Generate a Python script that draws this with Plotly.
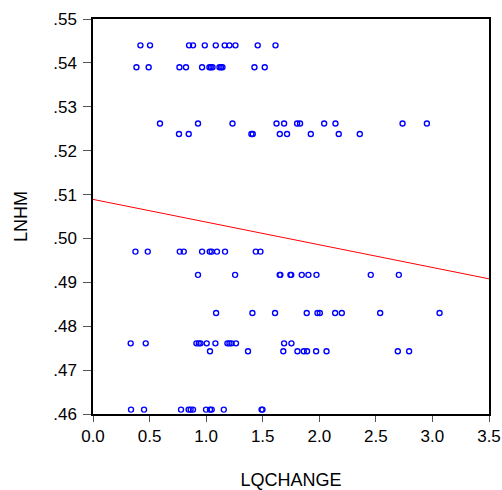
import plotly.graph_objects as go

# LNHM levels (y) and the LQCHANGE values (x) observed at each level
lnhm_levels = [0.5440, 0.5390, 0.5262, 0.5238, 0.4970, 0.4917, 0.4830, 0.4761, 0.4743, 0.4610]

x_544 = [0.419, 0.504, 0.849, 0.884, 0.988, 1.085, 1.164, 1.206, 1.259, 1.456, 1.613]
x_539 = [0.384, 0.492, 0.764, 0.822, 0.964, 1.029, 1.041, 1.056, 1.118, 1.132, 1.144, 1.427, 1.518]
x_526 = [0.592, 0.928, 1.233, 1.622, 1.689, 1.804, 1.830, 2.043, 2.143, 2.736, 2.951]
x_524 = [0.760, 0.846, 1.400, 1.412, 1.651, 1.715, 1.925, 2.172, 2.358]
x_497 = [0.375, 0.484, 0.767, 0.802, 0.964, 1.032, 1.049, 1.096, 1.167, 1.439, 1.480]
x_492 = [0.928, 1.256, 1.650, 1.656, 1.745, 1.752, 1.845, 1.904, 1.975, 2.455, 2.703]
x_483 = [1.088, 1.409, 1.609, 1.889, 1.984, 2.005, 2.140, 2.199, 2.538, 3.063]
x_476 = [0.333, 0.466, 0.914, 0.935, 0.950, 1.005, 1.082, 1.188, 1.206, 1.224, 1.264, 1.689, 1.754]
x_474 = [1.034, 1.370, 1.682, 1.807, 1.863, 1.892, 1.972, 2.064, 2.694, 2.794]
x_461 = [0.336, 0.451, 0.778, 0.845, 0.863, 0.884, 0.999, 1.034, 1.049, 1.156, 1.490, 1.498]

rows = [x_544, x_539, x_526, x_524, x_497, x_492, x_483, x_476, x_474, x_461]

# fitted line at the ends of the x axis
fit_x = [0.0, 3.5]
fit_y = [0.5089, 0.4908]

x_ticks = [0.0, 0.5, 1.0, 1.5, 2.0, 2.5, 3.0, 3.5]
x_ticktext = ["0.0", "0.5", "1.0", "1.5", "2.0", "2.5", "3.0", "3.5"]
y_ticks = [0.46, 0.47, 0.48, 0.49, 0.50, 0.51, 0.52, 0.53, 0.54, 0.55]
y_ticktext = [".46", ".47", ".48", ".49", ".50", ".51", ".52", ".53", ".54", ".55"]

xs, ys = [], []
for lvl, row in zip(lnhm_levels, rows):
    xs += row
    ys += [lvl] * len(row)

fig = go.Figure()
fig.add_trace(go.Scatter(
    x=xs, y=ys, mode="markers",
    marker=dict(symbol="circle-open", size=5, color="#0000FF", line=dict(width=1.4, color="#0000FF")),
    showlegend=False, cliponaxis=False
))
fig.add_trace(go.Scatter(
    x=fit_x, y=fit_y, mode="lines",
    line=dict(color="#FF0000", width=1),
    showlegend=False
))

font = "Liberation Sans, Arial, sans-serif"
fig.update_layout(
    width=502, height=490,
    margin=dict(l=93, r=13, t=19, b=76),
    paper_bgcolor="white", plot_bgcolor="white",
    font=dict(family=font, size=17, color="black"),
)
fig.update_xaxes(
    range=[0, 3.5], tickvals=x_ticks, ticktext=x_ticktext, automargin=False,
    showgrid=False, zeroline=False, showline=True, mirror=True,
    linecolor="black", linewidth=1.5,
    ticks="outside", ticklen=6, tickcolor="#555555", tickwidth=1,
    title=dict(text="LQCHANGE", font=dict(size=18), standoff=28),
)
fig.update_yaxes(
    range=[0.46, 0.55], tickvals=y_ticks, ticktext=y_ticktext, automargin=False,
    showgrid=False, zeroline=False, showline=True, mirror=True,
    linecolor="black", linewidth=1.5,
    ticks="outside", ticklen=8, tickcolor="#555555", tickwidth=1,
    ticklabelstandoff=3,
    title=dict(text="LNHM", font=dict(size=18), standoff=21),
)

# the page's default body margin would shift the fixed-size figure
fig.write_html("out.html", config={"displayModeBar": False},
               post_script="document.body.style.margin='0';")
